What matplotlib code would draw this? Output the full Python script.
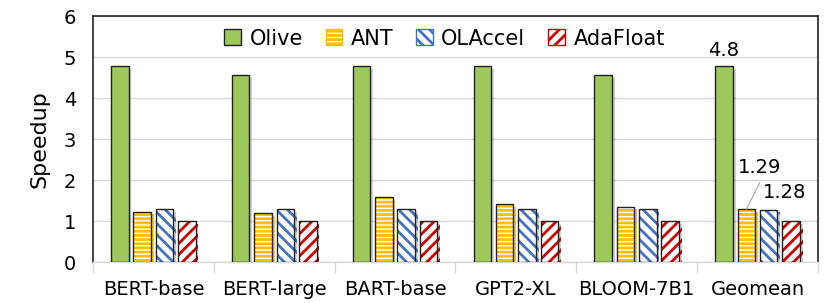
import numpy as np
import matplotlib
matplotlib.use("Agg")
import matplotlib.pyplot as plt
import matplotlib.patheffects as pe
from matplotlib.patches import Patch

# data
models = ["BERT-base", "BERT-large", "BART-base", "GPT2-XL", "BLOOM-7B1", "Geomean"]
olive = [4.78, 4.56, 4.78, 4.78, 4.56, 4.78]
ant = [1.23, 1.20, 1.58, 1.41, 1.35, 1.29]
olaccel = [1.29, 1.29, 1.29, 1.29, 1.29, 1.28]
adafloat = [1.0, 1.0, 1.0, 1.0, 1.0, 1.0]

names = ["Olive", "ANT", "OLAccel", "AdaFloat"]
series = [olive, ant, olaccel, adafloat]
# (face, hatch, hatch colour)
styles = [("#9dc95a", None, None),
          ("white", "----", "#ffc000"),
          ("white", "\\\\\\", "#4472c4"),
          ("white", "///", "#d00000")]

plt.rcParams["font.family"] = "DejaVu Sans"
plt.rcParams["hatch.linewidth"] = 2.0

fig = plt.figure(figsize=(8.3, 3.03), dpi=100)
ax = fig.add_axes([0.112, 0.1353, 0.8735, 0.8117])

x = np.arange(len(models))
width = 0.145
pitch = 0.185
offsets = (np.arange(4) - 1.5) * pitch
shadow = [pe.SimplePatchShadow(offset=(2, -2), shadow_rgbFace="gray", alpha=0.35), pe.Normal()]

for vals, off, (face, hatch, hcol) in zip(series, offsets, styles):
    if hatch is None:
        bars = ax.bar(x + off, vals, width, color=face, edgecolor="#222222", linewidth=1.0, zorder=3)
        for b in bars:
            b.set_path_effects(shadow)
    else:
        bars = ax.bar(x + off, vals, width, color=face, edgecolor=hcol, hatch=hatch, linewidth=0, zorder=3)
        for b in bars:
            b.set_path_effects(shadow)
        ax.bar(x + off, vals, width, fill=False, edgecolor="#222222", linewidth=1.0, zorder=4)

ax.set_ylim(0, 6)
ax.set_xlim(-0.5, len(models) - 0.5)
ax.set_yticks(range(7))
ax.yaxis.grid(True, color="#d9d9d9", linewidth=1.0, zorder=0)
ax.set_axisbelow(True)
ax.set_xticks(x)
ax.set_xticklabels(models, fontsize=14)
ax.set_xticks(np.arange(len(models) + 1) - 0.5, minor=True)
ax.tick_params(axis="x", which="major", length=0, pad=13)
ax.tick_params(axis="x", which="minor", length=8, color="#d9d9d9", width=1)
ax.tick_params(axis="y", length=0, labelsize=14, pad=12)
ax.set_ylabel("Speedup", fontsize=16, labelpad=10)

for s in ["left", "top", "right"]:
    ax.spines[s].set_color("#222222")
    ax.spines[s].set_linewidth(1.2)
ax.spines["bottom"].set_color("#d9d9d9")
ax.spines["bottom"].set_linewidth(1.0)

# value labels on Geomean
g = len(models) - 1
ax.text(g + offsets[0], olive[g] + 0.14, f"{olive[g]:.1f}", ha="center", va="bottom", fontsize=14)
ax.plot([g + offsets[1], g + offsets[1] + 0.11], [ant[g], 1.93], color="#a6a6a6", lw=0.8, zorder=5)
ax.text(g + offsets[1] - width / 2, 2.08, f"{ant[g]:.2f}", ha="left", va="bottom", fontsize=14)
ax.text(g + offsets[1] + 0.135, 1.47, f"{olaccel[g]:.2f}", ha="left", va="bottom", fontsize=14)

handles = []
for name, (face, hatch, hcol) in zip(names, styles):
    if hatch is None:
        handles.append(Patch(facecolor=face, edgecolor="#222222", label=name))
    else:
        handles.append(Patch(facecolor=face, edgecolor=hcol, hatch=hatch, label=name))
leg = ax.legend(handles=handles, ncol=4, loc="upper center", bbox_to_anchor=(0.485, 1.0),
                frameon=False, fontsize=15, handlelength=0.8, handleheight=0.8,
                handletextpad=0.4, columnspacing=1.1, borderaxespad=0.2)

fig.savefig("out.png", dpi=100)
